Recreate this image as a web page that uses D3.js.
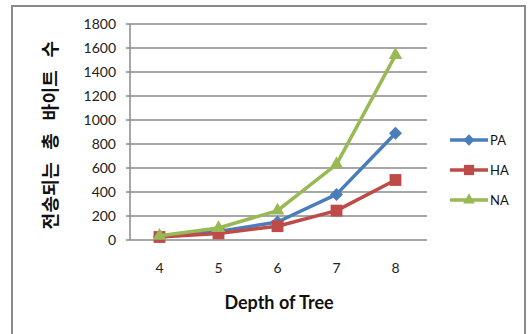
<!DOCTYPE html>
<html><head><meta charset="utf-8">
<script src="https://cdn.jsdelivr.net/npm/d3@7"></script>
<style>body{margin:0;background:#fff}svg{display:block}</style>
</head><body>
<script>
const categories = ["4","5","6","7","8"];
const seriesNames = ["PA","HA","NA"];
const paValues = [30, 70, 150, 380, 890];
const haValues = [25, 55, 115, 245, 500];
const naValues = [35, 100, 245, 630, 1540];
const yTicks = [0,200,400,600,800,1000,1200,1400,1600,1800];
const colors = ["#4A7EBB","#BE4B48","#98B954"];
const yTitle = "전송되는 총 바이트 수";
const xTitle = "Depth of Tree";

(function(){
const W = 528, H = 334;
const svg = d3.select("body").append("svg").attr("width", W).attr("height", H);
svg.append("rect").attr("x",12).attr("y",6).attr("width",513).attr("height",340)
  .attr("fill","#fff").attr("stroke","#8a8a8a").attr("stroke-width",2);

const pL = 130, pR = 425, pT = 24, pB = 240;
const x = d3.scaleBand().domain(categories).range([pL, pR]);
const y = d3.scaleLinear().domain([0,1800]).range([pB, pT]);
const font = "Lato, 'Open Sans', sans-serif";

svg.append("g").selectAll("line").data(yTicks).join("line")
  .attr("x1", pL-4).attr("x2", pR+2).attr("y1", d=>y(d)).attr("y2", d=>y(d))
  .attr("stroke","#8a8a8a").attr("stroke-width",1.5);
svg.append("line").attr("x1",pL).attr("x2",pL).attr("y1",pT).attr("y2",pB)
  .attr("stroke","#8a8a8a").attr("stroke-width",1.5);
svg.append("g").selectAll("text").data(yTicks).join("text")
  .attr("x", 116).attr("y", d=>y(d)).attr("dy","0.35em").attr("text-anchor","end")
  .attr("font-family",font).attr("font-size",14).attr("fill","#222").text(d=>d);
svg.append("g").selectAll("text").data(categories).join("text")
  .attr("x", d=>x(d)+x.bandwidth()/2).attr("y", 268).attr("dy","0.35em").attr("text-anchor","middle")
  .attr("font-family",font).attr("font-size",14).attr("fill","#222").text(d=>d);

svg.append("text").attr("x",279).attr("y",303).attr("dy","0.35em").attr("text-anchor","middle")
  .attr("font-family",font).attr("font-weight","bold").attr("font-size",18).attr("fill","#111").text(xTitle);
svg.append("text").attr("transform","translate(51,135) rotate(-90)").attr("dy","0.36em")
  .attr("text-anchor","middle").attr("font-family","'Noto Sans CJK KR', sans-serif")
  .attr("font-weight","bold").attr("font-size",18).attr("letter-spacing",0.3).attr("word-spacing",8)
  .attr("fill","#111").text(yTitle);

const markers = [
  {type: d3.symbolSquare, size: 85, rot: 45},
  {type: d3.symbolSquare, size: 140, rot: 0},
  {type: d3.symbolTriangle, size: 80, rot: 0}
];
const allSeries = [paValues, haValues, naValues];
const line = d3.line().x((d,i)=>x(categories[i])+x.bandwidth()/2).y(d=>y(d));
allSeries.forEach((vals, s) => {
  const g = svg.append("g");
  g.append("path").attr("d", line(vals)).attr("fill","none").attr("stroke",colors[s])
    .attr("stroke-width",3.5).attr("stroke-linejoin","round");
  g.selectAll("path.m").data(vals).join("path").attr("class","m")
    .attr("transform",(d,i)=>`translate(${x(categories[i])+x.bandwidth()/2},${y(d)}) rotate(${markers[s].rot})`)
    .attr("d", d3.symbol().type(markers[s].type).size(markers[s].size)).attr("fill",colors[s]);
});

seriesNames.forEach((n, s) => {
  const ly = 140 + s*30;
  svg.append("line").attr("x1",450).attr("x2",488).attr("y1",ly).attr("y2",ly)
    .attr("stroke",colors[s]).attr("stroke-width",3.5);
  svg.append("path").attr("transform",`translate(469,${ly}) rotate(${markers[s].rot})`)
    .attr("d", d3.symbol().type(markers[s].type).size(markers[s].size*0.75)).attr("fill",colors[s]);
  svg.append("text").attr("x",490).attr("y",ly).attr("dy","0.35em")
    .attr("font-family",font).attr("font-size",13).attr("fill","#111").text(n);
});
})();
</script>
</body></html>
